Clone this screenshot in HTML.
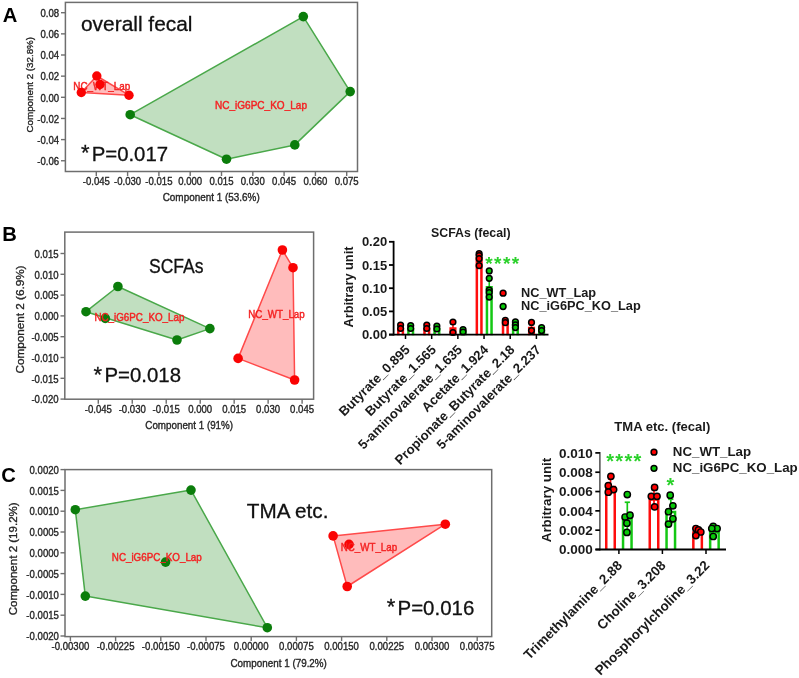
<!DOCTYPE html>
<html><head><meta charset="utf-8"><title>Figure</title>
<style>
html,body{margin:0;padding:0;background:#fff;}
body{width:799px;height:678px;overflow:hidden;}
svg{display:block;font-family:"Liberation Sans", sans-serif;will-change:transform;}
</style></head>
<body>
<svg width="799" height="678" viewBox="0 0 799 678">
<text x="2.70" y="22.40" font-size="20.2" font-weight="bold">A</text>
<polygon points="130.20,114.70 303.30,16.60 350.20,91.60 294.80,144.90 226.50,159.20" fill="#c1dfc0" fill-opacity="1" stroke="#4aa84a" stroke-width="1.5" stroke-linejoin="round"/>
<polygon points="81.30,92.50 96.80,76.00 129.00,95.20" fill="#ffbcbc" fill-opacity="1" stroke="#ff4a4a" stroke-width="1.5" stroke-linejoin="round"/>
<text x="73.30" y="90.30" font-size="9.3" stroke="#f42424" stroke-width="0.4" fill="#f42424" textLength="57.00" lengthAdjust="spacingAndGlyphs" transform="translate(0 90.30) scale(1 1.15) translate(0 -90.30)">NC_WT_Lap</text>
<circle cx="81.30" cy="92.50" r="4.7" fill="#fa0303" stroke="none" stroke-width="1"/>
<circle cx="96.80" cy="76.00" r="4.7" fill="#fa0303" stroke="none" stroke-width="1"/>
<circle cx="129.00" cy="95.20" r="4.7" fill="#fa0303" stroke="none" stroke-width="1"/>
<circle cx="100.00" cy="84.50" r="4.7" fill="#fa0303" stroke="none" stroke-width="1"/>
<circle cx="130.20" cy="114.70" r="4.8" fill="#0b7d0b" stroke="none" stroke-width="1"/>
<circle cx="303.30" cy="16.60" r="4.8" fill="#0b7d0b" stroke="none" stroke-width="1"/>
<circle cx="350.20" cy="91.60" r="4.8" fill="#0b7d0b" stroke="none" stroke-width="1"/>
<circle cx="294.80" cy="144.90" r="4.8" fill="#0b7d0b" stroke="none" stroke-width="1"/>
<circle cx="226.50" cy="159.20" r="4.8" fill="#0b7d0b" stroke="none" stroke-width="1"/>
<text x="215.00" y="108.60" font-size="9.3" stroke="#f42424" stroke-width="0.4" fill="#f42424" textLength="92.00" lengthAdjust="spacingAndGlyphs" transform="translate(0 108.60) scale(1 1.15) translate(0 -108.60)">NC_iG6PC_KO_Lap</text>
<rect x="65.40" y="2.40" width="292.10" height="169.10" fill="none" stroke="#6e6e6e" stroke-width="1.5"/>
<line x1="61.00" y1="12.70" x2="65.40" y2="12.70" stroke="#6e6e6e" stroke-width="1.4"/>
<text x="59.20" y="17.00" font-size="9.6" stroke="#262626" stroke-width="0.33" text-anchor="end" fill="#262626" transform="translate(0 17.00) scale(1 1.12) translate(0 -17.00)">0.08</text>
<line x1="61.00" y1="33.85" x2="65.40" y2="33.85" stroke="#6e6e6e" stroke-width="1.4"/>
<text x="59.20" y="38.15" font-size="9.6" stroke="#262626" stroke-width="0.33" text-anchor="end" fill="#262626" transform="translate(0 38.15) scale(1 1.12) translate(0 -38.15)">0.06</text>
<line x1="61.00" y1="55.00" x2="65.40" y2="55.00" stroke="#6e6e6e" stroke-width="1.4"/>
<text x="59.20" y="59.30" font-size="9.6" stroke="#262626" stroke-width="0.33" text-anchor="end" fill="#262626" transform="translate(0 59.30) scale(1 1.12) translate(0 -59.30)">0.04</text>
<line x1="61.00" y1="76.15" x2="65.40" y2="76.15" stroke="#6e6e6e" stroke-width="1.4"/>
<text x="59.20" y="80.45" font-size="9.6" stroke="#262626" stroke-width="0.33" text-anchor="end" fill="#262626" transform="translate(0 80.45) scale(1 1.12) translate(0 -80.45)">0.02</text>
<line x1="61.00" y1="97.30" x2="65.40" y2="97.30" stroke="#6e6e6e" stroke-width="1.4"/>
<text x="59.20" y="101.60" font-size="9.6" stroke="#262626" stroke-width="0.33" text-anchor="end" fill="#262626" transform="translate(0 101.60) scale(1 1.12) translate(0 -101.60)">0.00</text>
<line x1="61.00" y1="118.45" x2="65.40" y2="118.45" stroke="#6e6e6e" stroke-width="1.4"/>
<text x="59.20" y="122.75" font-size="9.6" stroke="#262626" stroke-width="0.33" text-anchor="end" fill="#262626" transform="translate(0 122.75) scale(1 1.12) translate(0 -122.75)">-0.02</text>
<line x1="61.00" y1="139.60" x2="65.40" y2="139.60" stroke="#6e6e6e" stroke-width="1.4"/>
<text x="59.20" y="143.90" font-size="9.6" stroke="#262626" stroke-width="0.33" text-anchor="end" fill="#262626" transform="translate(0 143.90) scale(1 1.12) translate(0 -143.90)">-0.04</text>
<line x1="61.00" y1="160.75" x2="65.40" y2="160.75" stroke="#6e6e6e" stroke-width="1.4"/>
<text x="59.20" y="165.05" font-size="9.6" stroke="#262626" stroke-width="0.33" text-anchor="end" fill="#262626" transform="translate(0 165.05) scale(1 1.12) translate(0 -165.05)">-0.06</text>
<line x1="96.30" y1="171.50" x2="96.30" y2="176.00" stroke="#6e6e6e" stroke-width="1.4"/>
<text x="96.30" y="185.00" font-size="9.6" stroke="#262626" stroke-width="0.33" text-anchor="middle" fill="#262626" transform="translate(0 185.00) scale(1 1.12) translate(0 -185.00)">-0.045</text>
<line x1="127.60" y1="171.50" x2="127.60" y2="176.00" stroke="#6e6e6e" stroke-width="1.4"/>
<text x="127.60" y="185.00" font-size="9.6" stroke="#262626" stroke-width="0.33" text-anchor="middle" fill="#262626" transform="translate(0 185.00) scale(1 1.12) translate(0 -185.00)">-0.030</text>
<line x1="158.90" y1="171.50" x2="158.90" y2="176.00" stroke="#6e6e6e" stroke-width="1.4"/>
<text x="158.90" y="185.00" font-size="9.6" stroke="#262626" stroke-width="0.33" text-anchor="middle" fill="#262626" transform="translate(0 185.00) scale(1 1.12) translate(0 -185.00)">-0.015</text>
<line x1="190.20" y1="171.50" x2="190.20" y2="176.00" stroke="#6e6e6e" stroke-width="1.4"/>
<text x="190.20" y="185.00" font-size="9.6" stroke="#262626" stroke-width="0.33" text-anchor="middle" fill="#262626" transform="translate(0 185.00) scale(1 1.12) translate(0 -185.00)">0.000</text>
<line x1="221.50" y1="171.50" x2="221.50" y2="176.00" stroke="#6e6e6e" stroke-width="1.4"/>
<text x="221.50" y="185.00" font-size="9.6" stroke="#262626" stroke-width="0.33" text-anchor="middle" fill="#262626" transform="translate(0 185.00) scale(1 1.12) translate(0 -185.00)">0.015</text>
<line x1="252.80" y1="171.50" x2="252.80" y2="176.00" stroke="#6e6e6e" stroke-width="1.4"/>
<text x="252.80" y="185.00" font-size="9.6" stroke="#262626" stroke-width="0.33" text-anchor="middle" fill="#262626" transform="translate(0 185.00) scale(1 1.12) translate(0 -185.00)">0.030</text>
<line x1="284.10" y1="171.50" x2="284.10" y2="176.00" stroke="#6e6e6e" stroke-width="1.4"/>
<text x="284.10" y="185.00" font-size="9.6" stroke="#262626" stroke-width="0.33" text-anchor="middle" fill="#262626" transform="translate(0 185.00) scale(1 1.12) translate(0 -185.00)">0.045</text>
<line x1="315.40" y1="171.50" x2="315.40" y2="176.00" stroke="#6e6e6e" stroke-width="1.4"/>
<text x="315.40" y="185.00" font-size="9.6" stroke="#262626" stroke-width="0.33" text-anchor="middle" fill="#262626" transform="translate(0 185.00) scale(1 1.12) translate(0 -185.00)">0.060</text>
<line x1="346.70" y1="171.50" x2="346.70" y2="176.00" stroke="#6e6e6e" stroke-width="1.4"/>
<text x="346.70" y="185.00" font-size="9.6" stroke="#262626" stroke-width="0.33" text-anchor="middle" fill="#262626" transform="translate(0 185.00) scale(1 1.12) translate(0 -185.00)">0.075</text>
<text x="211.20" y="200.80" font-size="9.6" stroke="#262626" stroke-width="0.33" text-anchor="middle" fill="#262626" textLength="97.00" lengthAdjust="spacingAndGlyphs" transform="translate(0 200.80) scale(1 1.12) translate(0 -200.80)">Component 1 (53.6%)</text>
<text x="33.20" y="84.70" font-size="9.6" stroke="#262626" stroke-width="0.33" text-anchor="middle" fill="#262626" textLength="95.50" lengthAdjust="spacingAndGlyphs" transform="rotate(-90 33.20 84.70)">Component 2 (32.8%)</text>
<text x="81.00" y="31.20" font-size="20.5" stroke="#111" stroke-width="0.3" fill="#111" textLength="111.50" lengthAdjust="spacingAndGlyphs">overall fecal</text>
<text x="81.00" y="159.50" font-size="22" stroke="#111" stroke-width="0.3" fill="#111">*</text>
<text x="91.70" y="160.60" font-size="20.0" stroke="#111" stroke-width="0.3" fill="#111" textLength="76.40" lengthAdjust="spacingAndGlyphs">P=0.017</text>
<text x="2.30" y="240.50" font-size="20.2" font-weight="bold">B</text>
<polygon points="86.00,311.70 117.90,286.50 209.90,328.60 177.00,340.00" fill="#c1dfc0" fill-opacity="1" stroke="#4aa84a" stroke-width="1.5" stroke-linejoin="round"/>
<polygon points="282.40,250.00 293.00,267.70 294.60,380.00 238.10,358.40" fill="#ffbcbc" fill-opacity="1" stroke="#ff4a4a" stroke-width="1.5" stroke-linejoin="round"/>
<circle cx="86.00" cy="311.70" r="4.8" fill="#0b7d0b" stroke="none" stroke-width="1"/>
<circle cx="117.90" cy="286.50" r="4.8" fill="#0b7d0b" stroke="none" stroke-width="1"/>
<circle cx="209.90" cy="328.60" r="4.8" fill="#0b7d0b" stroke="none" stroke-width="1"/>
<circle cx="177.00" cy="340.00" r="4.8" fill="#0b7d0b" stroke="none" stroke-width="1"/>
<circle cx="105.30" cy="318.40" r="4.8" fill="#0b7d0b" stroke="none" stroke-width="1"/>
<circle cx="282.40" cy="250.00" r="4.8" fill="#fa0303" stroke="none" stroke-width="1"/>
<circle cx="293.00" cy="267.70" r="4.8" fill="#fa0303" stroke="none" stroke-width="1"/>
<circle cx="294.60" cy="380.00" r="4.8" fill="#fa0303" stroke="none" stroke-width="1"/>
<circle cx="238.10" cy="358.40" r="4.8" fill="#fa0303" stroke="none" stroke-width="1"/>
<text x="94.40" y="320.70" font-size="9.3" stroke="#f42424" stroke-width="0.4" fill="#f42424" textLength="90.00" lengthAdjust="spacingAndGlyphs" transform="translate(0 320.70) scale(1 1.15) translate(0 -320.70)">NC_iG6PC_KO_Lap</text>
<text x="248.30" y="318.20" font-size="9.3" stroke="#f42424" stroke-width="0.4" fill="#f42424" textLength="56.40" lengthAdjust="spacingAndGlyphs" transform="translate(0 318.20) scale(1 1.15) translate(0 -318.20)">NC_WT_Lap</text>
<rect x="64.80" y="232.10" width="248.80" height="167.10" fill="none" stroke="#6e6e6e" stroke-width="1.5"/>
<line x1="60.50" y1="253.50" x2="64.80" y2="253.50" stroke="#6e6e6e" stroke-width="1.4"/>
<text x="58.60" y="257.80" font-size="9.6" stroke="#262626" stroke-width="0.33" text-anchor="end" fill="#262626" transform="translate(0 257.80) scale(1 1.12) translate(0 -257.80)">0.015</text>
<line x1="60.50" y1="274.30" x2="64.80" y2="274.30" stroke="#6e6e6e" stroke-width="1.4"/>
<text x="58.60" y="278.60" font-size="9.6" stroke="#262626" stroke-width="0.33" text-anchor="end" fill="#262626" transform="translate(0 278.60) scale(1 1.12) translate(0 -278.60)">0.010</text>
<line x1="60.50" y1="295.10" x2="64.80" y2="295.10" stroke="#6e6e6e" stroke-width="1.4"/>
<text x="58.60" y="299.40" font-size="9.6" stroke="#262626" stroke-width="0.33" text-anchor="end" fill="#262626" transform="translate(0 299.40) scale(1 1.12) translate(0 -299.40)">0.005</text>
<line x1="60.50" y1="315.90" x2="64.80" y2="315.90" stroke="#6e6e6e" stroke-width="1.4"/>
<text x="58.60" y="320.20" font-size="9.6" stroke="#262626" stroke-width="0.33" text-anchor="end" fill="#262626" transform="translate(0 320.20) scale(1 1.12) translate(0 -320.20)">0.000</text>
<line x1="60.50" y1="336.70" x2="64.80" y2="336.70" stroke="#6e6e6e" stroke-width="1.4"/>
<text x="58.60" y="341.00" font-size="9.6" stroke="#262626" stroke-width="0.33" text-anchor="end" fill="#262626" transform="translate(0 341.00) scale(1 1.12) translate(0 -341.00)">-0.005</text>
<line x1="60.50" y1="357.50" x2="64.80" y2="357.50" stroke="#6e6e6e" stroke-width="1.4"/>
<text x="58.60" y="361.80" font-size="9.6" stroke="#262626" stroke-width="0.33" text-anchor="end" fill="#262626" transform="translate(0 361.80) scale(1 1.12) translate(0 -361.80)">-0.010</text>
<line x1="60.50" y1="378.30" x2="64.80" y2="378.30" stroke="#6e6e6e" stroke-width="1.4"/>
<text x="58.60" y="382.60" font-size="9.6" stroke="#262626" stroke-width="0.33" text-anchor="end" fill="#262626" transform="translate(0 382.60) scale(1 1.12) translate(0 -382.60)">-0.015</text>
<line x1="60.50" y1="399.10" x2="64.80" y2="399.10" stroke="#6e6e6e" stroke-width="1.4"/>
<text x="58.60" y="403.40" font-size="9.6" stroke="#262626" stroke-width="0.33" text-anchor="end" fill="#262626" transform="translate(0 403.40) scale(1 1.12) translate(0 -403.40)">-0.020</text>
<line x1="98.29" y1="399.20" x2="98.29" y2="403.70" stroke="#6e6e6e" stroke-width="1.4"/>
<text x="98.29" y="413.00" font-size="9.6" stroke="#262626" stroke-width="0.33" text-anchor="middle" fill="#262626" transform="translate(0 413.00) scale(1 1.12) translate(0 -413.00)">-0.045</text>
<line x1="132.26" y1="399.20" x2="132.26" y2="403.70" stroke="#6e6e6e" stroke-width="1.4"/>
<text x="132.26" y="413.00" font-size="9.6" stroke="#262626" stroke-width="0.33" text-anchor="middle" fill="#262626" transform="translate(0 413.00) scale(1 1.12) translate(0 -413.00)">-0.030</text>
<line x1="166.23" y1="399.20" x2="166.23" y2="403.70" stroke="#6e6e6e" stroke-width="1.4"/>
<text x="166.23" y="413.00" font-size="9.6" stroke="#262626" stroke-width="0.33" text-anchor="middle" fill="#262626" transform="translate(0 413.00) scale(1 1.12) translate(0 -413.00)">-0.015</text>
<line x1="200.20" y1="399.20" x2="200.20" y2="403.70" stroke="#6e6e6e" stroke-width="1.4"/>
<text x="200.20" y="413.00" font-size="9.6" stroke="#262626" stroke-width="0.33" text-anchor="middle" fill="#262626" transform="translate(0 413.00) scale(1 1.12) translate(0 -413.00)">0.000</text>
<line x1="234.17" y1="399.20" x2="234.17" y2="403.70" stroke="#6e6e6e" stroke-width="1.4"/>
<text x="234.17" y="413.00" font-size="9.6" stroke="#262626" stroke-width="0.33" text-anchor="middle" fill="#262626" transform="translate(0 413.00) scale(1 1.12) translate(0 -413.00)">0.015</text>
<line x1="268.14" y1="399.20" x2="268.14" y2="403.70" stroke="#6e6e6e" stroke-width="1.4"/>
<text x="268.14" y="413.00" font-size="9.6" stroke="#262626" stroke-width="0.33" text-anchor="middle" fill="#262626" transform="translate(0 413.00) scale(1 1.12) translate(0 -413.00)">0.030</text>
<line x1="302.11" y1="399.20" x2="302.11" y2="403.70" stroke="#6e6e6e" stroke-width="1.4"/>
<text x="302.11" y="413.00" font-size="9.6" stroke="#262626" stroke-width="0.33" text-anchor="middle" fill="#262626" transform="translate(0 413.00) scale(1 1.12) translate(0 -413.00)">0.045</text>
<text x="189.20" y="429.50" font-size="9.6" stroke="#262626" stroke-width="0.33" text-anchor="middle" fill="#262626" textLength="87.70" lengthAdjust="spacingAndGlyphs" transform="translate(0 429.50) scale(1 1.12) translate(0 -429.50)">Component 1 (91%)</text>
<text x="24.00" y="319.50" font-size="11.0" stroke="#262626" stroke-width="0.33" text-anchor="middle" fill="#262626" textLength="108.00" lengthAdjust="spacingAndGlyphs" transform="rotate(-90 24.00 319.50)">Component  2 (6.9%)</text>
<text x="149.00" y="273.10" font-size="20.0" stroke="#111" stroke-width="0.3" fill="#111" textLength="54.50" lengthAdjust="spacingAndGlyphs">SCFAs</text>
<text x="93.60" y="382.00" font-size="22" stroke="#111" stroke-width="0.3" fill="#111">*</text>
<text x="104.50" y="382.00" font-size="20.0" stroke="#111" stroke-width="0.3" fill="#111" textLength="76.50" lengthAdjust="spacingAndGlyphs">P=0.018</text>
<text x="1.30" y="482.30" font-size="20.2" font-weight="bold">C</text>
<polygon points="75.30,509.70 191.00,490.10 267.30,627.70 85.30,596.10" fill="#c1dfc0" fill-opacity="1" stroke="#4aa84a" stroke-width="1.5" stroke-linejoin="round"/>
<polygon points="333.10,535.90 445.30,524.20 347.20,586.50" fill="#ffbcbc" fill-opacity="1" stroke="#ff4a4a" stroke-width="1.5" stroke-linejoin="round"/>
<circle cx="75.30" cy="509.70" r="4.8" fill="#0b7d0b" stroke="none" stroke-width="1"/>
<circle cx="191.00" cy="490.10" r="4.8" fill="#0b7d0b" stroke="none" stroke-width="1"/>
<circle cx="267.30" cy="627.70" r="4.8" fill="#0b7d0b" stroke="none" stroke-width="1"/>
<circle cx="85.30" cy="596.10" r="4.8" fill="#0b7d0b" stroke="none" stroke-width="1"/>
<circle cx="165.60" cy="562.10" r="4.8" fill="#0b7d0b" stroke="none" stroke-width="1"/>
<circle cx="333.10" cy="535.90" r="4.8" fill="#fa0303" stroke="none" stroke-width="1"/>
<circle cx="445.30" cy="524.20" r="4.8" fill="#fa0303" stroke="none" stroke-width="1"/>
<circle cx="347.20" cy="586.50" r="4.8" fill="#fa0303" stroke="none" stroke-width="1"/>
<circle cx="349.00" cy="544.40" r="4.8" fill="#fa0303" stroke="none" stroke-width="1"/>
<text x="111.80" y="561.20" font-size="9.3" stroke="#f42424" stroke-width="0.4" fill="#f42424" textLength="90.00" lengthAdjust="spacingAndGlyphs" transform="translate(0 561.20) scale(1 1.15) translate(0 -561.20)">NC_iG6PC_KO_Lap</text>
<text x="340.70" y="551.10" font-size="9.3" stroke="#f42424" stroke-width="0.4" fill="#f42424" textLength="56.40" lengthAdjust="spacingAndGlyphs" transform="translate(0 551.10) scale(1 1.15) translate(0 -551.10)">NC_WT_Lap</text>
<rect x="65.00" y="469.60" width="426.70" height="167.00" fill="none" stroke="#6e6e6e" stroke-width="1.5"/>
<line x1="60.50" y1="469.60" x2="65.00" y2="469.60" stroke="#6e6e6e" stroke-width="1.4"/>
<text x="58.90" y="473.90" font-size="9.6" stroke="#262626" stroke-width="0.33" text-anchor="end" fill="#262626" transform="translate(0 473.90) scale(1 1.12) translate(0 -473.90)">0.0020</text>
<line x1="60.50" y1="490.40" x2="65.00" y2="490.40" stroke="#6e6e6e" stroke-width="1.4"/>
<text x="58.90" y="494.70" font-size="9.6" stroke="#262626" stroke-width="0.33" text-anchor="end" fill="#262626" transform="translate(0 494.70) scale(1 1.12) translate(0 -494.70)">0.0015</text>
<line x1="60.50" y1="511.20" x2="65.00" y2="511.20" stroke="#6e6e6e" stroke-width="1.4"/>
<text x="58.90" y="515.50" font-size="9.6" stroke="#262626" stroke-width="0.33" text-anchor="end" fill="#262626" transform="translate(0 515.50) scale(1 1.12) translate(0 -515.50)">0.0010</text>
<line x1="60.50" y1="532.00" x2="65.00" y2="532.00" stroke="#6e6e6e" stroke-width="1.4"/>
<text x="58.90" y="536.30" font-size="9.6" stroke="#262626" stroke-width="0.33" text-anchor="end" fill="#262626" transform="translate(0 536.30) scale(1 1.12) translate(0 -536.30)">0.0005</text>
<line x1="60.50" y1="552.80" x2="65.00" y2="552.80" stroke="#6e6e6e" stroke-width="1.4"/>
<text x="58.90" y="557.10" font-size="9.6" stroke="#262626" stroke-width="0.33" text-anchor="end" fill="#262626" transform="translate(0 557.10) scale(1 1.12) translate(0 -557.10)">0.0000</text>
<line x1="60.50" y1="573.60" x2="65.00" y2="573.60" stroke="#6e6e6e" stroke-width="1.4"/>
<text x="58.90" y="577.90" font-size="9.6" stroke="#262626" stroke-width="0.33" text-anchor="end" fill="#262626" transform="translate(0 577.90) scale(1 1.12) translate(0 -577.90)">-0.0005</text>
<line x1="60.50" y1="594.40" x2="65.00" y2="594.40" stroke="#6e6e6e" stroke-width="1.4"/>
<text x="58.90" y="598.70" font-size="9.6" stroke="#262626" stroke-width="0.33" text-anchor="end" fill="#262626" transform="translate(0 598.70) scale(1 1.12) translate(0 -598.70)">-0.0010</text>
<line x1="60.50" y1="615.20" x2="65.00" y2="615.20" stroke="#6e6e6e" stroke-width="1.4"/>
<text x="58.90" y="619.50" font-size="9.6" stroke="#262626" stroke-width="0.33" text-anchor="end" fill="#262626" transform="translate(0 619.50) scale(1 1.12) translate(0 -619.50)">-0.0015</text>
<line x1="60.50" y1="636.00" x2="65.00" y2="636.00" stroke="#6e6e6e" stroke-width="1.4"/>
<text x="58.90" y="640.30" font-size="9.6" stroke="#262626" stroke-width="0.33" text-anchor="end" fill="#262626" transform="translate(0 640.30) scale(1 1.12) translate(0 -640.30)">-0.0020</text>
<line x1="70.40" y1="636.60" x2="70.40" y2="641.10" stroke="#6e6e6e" stroke-width="1.4"/>
<text x="70.40" y="649.80" font-size="9.6" stroke="#262626" stroke-width="0.33" text-anchor="middle" fill="#262626" transform="translate(0 649.80) scale(1 1.12) translate(0 -649.80)">-0.00300</text>
<line x1="115.60" y1="636.60" x2="115.60" y2="641.10" stroke="#6e6e6e" stroke-width="1.4"/>
<text x="115.60" y="649.80" font-size="9.6" stroke="#262626" stroke-width="0.33" text-anchor="middle" fill="#262626" transform="translate(0 649.80) scale(1 1.12) translate(0 -649.80)">-0.00225</text>
<line x1="160.80" y1="636.60" x2="160.80" y2="641.10" stroke="#6e6e6e" stroke-width="1.4"/>
<text x="160.80" y="649.80" font-size="9.6" stroke="#262626" stroke-width="0.33" text-anchor="middle" fill="#262626" transform="translate(0 649.80) scale(1 1.12) translate(0 -649.80)">-0.00150</text>
<line x1="206.00" y1="636.60" x2="206.00" y2="641.10" stroke="#6e6e6e" stroke-width="1.4"/>
<text x="206.00" y="649.80" font-size="9.6" stroke="#262626" stroke-width="0.33" text-anchor="middle" fill="#262626" transform="translate(0 649.80) scale(1 1.12) translate(0 -649.80)">-0.00075</text>
<line x1="251.20" y1="636.60" x2="251.20" y2="641.10" stroke="#6e6e6e" stroke-width="1.4"/>
<text x="251.20" y="649.80" font-size="9.6" stroke="#262626" stroke-width="0.33" text-anchor="middle" fill="#262626" transform="translate(0 649.80) scale(1 1.12) translate(0 -649.80)">0.00000</text>
<line x1="296.40" y1="636.60" x2="296.40" y2="641.10" stroke="#6e6e6e" stroke-width="1.4"/>
<text x="296.40" y="649.80" font-size="9.6" stroke="#262626" stroke-width="0.33" text-anchor="middle" fill="#262626" transform="translate(0 649.80) scale(1 1.12) translate(0 -649.80)">0.00075</text>
<line x1="341.60" y1="636.60" x2="341.60" y2="641.10" stroke="#6e6e6e" stroke-width="1.4"/>
<text x="341.60" y="649.80" font-size="9.6" stroke="#262626" stroke-width="0.33" text-anchor="middle" fill="#262626" transform="translate(0 649.80) scale(1 1.12) translate(0 -649.80)">0.00150</text>
<line x1="386.80" y1="636.60" x2="386.80" y2="641.10" stroke="#6e6e6e" stroke-width="1.4"/>
<text x="386.80" y="649.80" font-size="9.6" stroke="#262626" stroke-width="0.33" text-anchor="middle" fill="#262626" transform="translate(0 649.80) scale(1 1.12) translate(0 -649.80)">0.00225</text>
<line x1="432.00" y1="636.60" x2="432.00" y2="641.10" stroke="#6e6e6e" stroke-width="1.4"/>
<text x="432.00" y="649.80" font-size="9.6" stroke="#262626" stroke-width="0.33" text-anchor="middle" fill="#262626" transform="translate(0 649.80) scale(1 1.12) translate(0 -649.80)">0.00300</text>
<line x1="477.20" y1="636.60" x2="477.20" y2="641.10" stroke="#6e6e6e" stroke-width="1.4"/>
<text x="477.20" y="649.80" font-size="9.6" stroke="#262626" stroke-width="0.33" text-anchor="middle" fill="#262626" transform="translate(0 649.80) scale(1 1.12) translate(0 -649.80)">0.00375</text>
<text x="278.70" y="666.80" font-size="9.6" stroke="#262626" stroke-width="0.33" text-anchor="middle" fill="#262626" textLength="96.40" lengthAdjust="spacingAndGlyphs" transform="translate(0 666.80) scale(1 1.12) translate(0 -666.80)">Component 1 (79.2%)</text>
<text x="17.30" y="558.80" font-size="11.0" stroke="#262626" stroke-width="0.33" text-anchor="middle" fill="#262626" textLength="113.00" lengthAdjust="spacingAndGlyphs" transform="rotate(-90 17.30 558.80)">Component  2 (19.2%)</text>
<text x="246.80" y="518.40" font-size="20.0" stroke="#111" stroke-width="0.3" fill="#111" textLength="81.60" lengthAdjust="spacingAndGlyphs">TMA etc.</text>
<text x="386.75" y="614.40" font-size="22" stroke="#111" stroke-width="0.3" fill="#111">*</text>
<text x="397.50" y="615.00" font-size="20.0" stroke="#111" stroke-width="0.3" fill="#111" textLength="76.80" lengthAdjust="spacingAndGlyphs">P=0.016</text>
<text x="470.80" y="236.60" font-size="12.2" text-anchor="middle" font-weight="bold" fill="#1a1a1a" textLength="79.60" lengthAdjust="spacingAndGlyphs">SCFAs (fecal)</text>
<text x="353.00" y="287.00" font-size="12.5" text-anchor="middle" font-weight="bold" fill="#1a1a1a" textLength="81.00" lengthAdjust="spacingAndGlyphs" transform="rotate(-90 353.00 287.00)">Arbitrary unit</text>
<path d="M398.30,335.20 V328.89 H402.90 V335.20" fill="#fff" stroke="#ff0d0d" stroke-width="2.5"/>
<path d="M408.40,335.20 V328.89 H413.00 V335.20" fill="#fff" stroke="#14c814" stroke-width="2.5"/>
<path d="M424.48,335.20 V328.89 H429.08 V335.20" fill="#fff" stroke="#ff0d0d" stroke-width="2.5"/>
<path d="M434.58,335.20 V329.35 H439.18 V335.20" fill="#fff" stroke="#14c814" stroke-width="2.5"/>
<path d="M450.66,335.20 V328.43 H455.26 V335.20" fill="#fff" stroke="#ff0d0d" stroke-width="2.5"/>
<path d="M460.76,335.20 V331.67 H465.36 V335.20" fill="#fff" stroke="#14c814" stroke-width="2.5"/>
<path d="M476.84,335.20 V257.90 H481.44 V335.20" fill="#fff" stroke="#ff0d0d" stroke-width="2.5"/>
<path d="M486.94,335.20 V287.13 H491.54 V335.20" fill="#fff" stroke="#14c814" stroke-width="2.5"/>
<path d="M503.02,335.20 V322.86 H507.62 V335.20" fill="#fff" stroke="#ff0d0d" stroke-width="2.5"/>
<path d="M513.12,335.20 V324.71 H517.72 V335.20" fill="#fff" stroke="#14c814" stroke-width="2.5"/>
<path d="M529.20,335.20 V327.96 H533.80 V335.20" fill="#fff" stroke="#ff0d0d" stroke-width="2.5"/>
<path d="M539.30,335.20 V329.82 H543.90 V335.20" fill="#fff" stroke="#14c814" stroke-width="2.5"/>
<line x1="400.60" y1="326.25" x2="400.60" y2="329.03" stroke="#ff0d0d" stroke-width="1.6"/>
<line x1="398.60" y1="326.25" x2="402.60" y2="326.25" stroke="#ff0d0d" stroke-width="1.6"/>
<line x1="398.60" y1="329.03" x2="402.60" y2="329.03" stroke="#ff0d0d" stroke-width="1.6"/>
<line x1="410.70" y1="326.25" x2="410.70" y2="329.03" stroke="#14c814" stroke-width="1.6"/>
<line x1="408.70" y1="326.25" x2="412.70" y2="326.25" stroke="#14c814" stroke-width="1.6"/>
<line x1="408.70" y1="329.03" x2="412.70" y2="329.03" stroke="#14c814" stroke-width="1.6"/>
<line x1="426.78" y1="326.25" x2="426.78" y2="329.03" stroke="#ff0d0d" stroke-width="1.6"/>
<line x1="424.78" y1="326.25" x2="428.78" y2="326.25" stroke="#ff0d0d" stroke-width="1.6"/>
<line x1="424.78" y1="329.03" x2="428.78" y2="329.03" stroke="#ff0d0d" stroke-width="1.6"/>
<line x1="436.88" y1="326.71" x2="436.88" y2="329.50" stroke="#14c814" stroke-width="1.6"/>
<line x1="434.88" y1="326.71" x2="438.88" y2="326.71" stroke="#14c814" stroke-width="1.6"/>
<line x1="434.88" y1="329.50" x2="438.88" y2="329.50" stroke="#14c814" stroke-width="1.6"/>
<line x1="452.96" y1="323.46" x2="452.96" y2="330.89" stroke="#ff0d0d" stroke-width="1.6"/>
<line x1="450.96" y1="323.46" x2="454.96" y2="323.46" stroke="#ff0d0d" stroke-width="1.6"/>
<line x1="450.96" y1="330.89" x2="454.96" y2="330.89" stroke="#ff0d0d" stroke-width="1.6"/>
<line x1="463.06" y1="329.03" x2="463.06" y2="331.82" stroke="#14c814" stroke-width="1.6"/>
<line x1="461.06" y1="329.03" x2="465.06" y2="329.03" stroke="#14c814" stroke-width="1.6"/>
<line x1="461.06" y1="331.82" x2="465.06" y2="331.82" stroke="#14c814" stroke-width="1.6"/>
<line x1="479.14" y1="252.01" x2="479.14" y2="261.29" stroke="#ff0d0d" stroke-width="1.6"/>
<line x1="477.14" y1="252.01" x2="481.14" y2="252.01" stroke="#ff0d0d" stroke-width="1.6"/>
<line x1="477.14" y1="261.29" x2="481.14" y2="261.29" stroke="#ff0d0d" stroke-width="1.6"/>
<line x1="489.24" y1="277.99" x2="489.24" y2="293.77" stroke="#14c814" stroke-width="1.6"/>
<line x1="487.24" y1="277.99" x2="491.24" y2="277.99" stroke="#14c814" stroke-width="1.6"/>
<line x1="487.24" y1="293.77" x2="491.24" y2="293.77" stroke="#14c814" stroke-width="1.6"/>
<line x1="505.32" y1="320.22" x2="505.32" y2="323.00" stroke="#ff0d0d" stroke-width="1.6"/>
<line x1="503.32" y1="320.22" x2="507.32" y2="320.22" stroke="#ff0d0d" stroke-width="1.6"/>
<line x1="503.32" y1="323.00" x2="507.32" y2="323.00" stroke="#ff0d0d" stroke-width="1.6"/>
<line x1="515.42" y1="322.07" x2="515.42" y2="324.86" stroke="#14c814" stroke-width="1.6"/>
<line x1="513.42" y1="322.07" x2="517.42" y2="322.07" stroke="#14c814" stroke-width="1.6"/>
<line x1="513.42" y1="324.86" x2="517.42" y2="324.86" stroke="#14c814" stroke-width="1.6"/>
<line x1="531.50" y1="323.93" x2="531.50" y2="329.50" stroke="#ff0d0d" stroke-width="1.6"/>
<line x1="529.50" y1="323.93" x2="533.50" y2="323.93" stroke="#ff0d0d" stroke-width="1.6"/>
<line x1="529.50" y1="329.50" x2="533.50" y2="329.50" stroke="#ff0d0d" stroke-width="1.6"/>
<line x1="541.60" y1="327.18" x2="541.60" y2="329.96" stroke="#14c814" stroke-width="1.6"/>
<line x1="539.60" y1="327.18" x2="543.60" y2="327.18" stroke="#14c814" stroke-width="1.6"/>
<line x1="539.60" y1="329.96" x2="543.60" y2="329.96" stroke="#14c814" stroke-width="1.6"/>
<circle cx="400.60" cy="325.00" r="2.85" fill="#ff0000" stroke="#000" stroke-width="1.5"/>
<circle cx="400.60" cy="328.50" r="2.85" fill="#ff0000" stroke="#000" stroke-width="1.5"/>
<circle cx="410.70" cy="325.50" r="2.85" fill="#08c808" stroke="#000" stroke-width="1.5"/>
<circle cx="410.70" cy="328.50" r="2.85" fill="#08c808" stroke="#000" stroke-width="1.5"/>
<circle cx="426.78" cy="325.00" r="2.85" fill="#ff0000" stroke="#000" stroke-width="1.5"/>
<circle cx="426.78" cy="328.50" r="2.85" fill="#ff0000" stroke="#000" stroke-width="1.5"/>
<circle cx="436.88" cy="326.00" r="2.85" fill="#08c808" stroke="#000" stroke-width="1.5"/>
<circle cx="436.88" cy="329.00" r="2.85" fill="#08c808" stroke="#000" stroke-width="1.5"/>
<circle cx="452.96" cy="322.00" r="2.85" fill="#ff0000" stroke="#000" stroke-width="1.5"/>
<circle cx="452.96" cy="332.50" r="2.85" fill="#ff0000" stroke="#000" stroke-width="1.5"/>
<circle cx="463.06" cy="329.50" r="2.85" fill="#08c808" stroke="#000" stroke-width="1.5"/>
<circle cx="463.06" cy="332.00" r="2.85" fill="#08c808" stroke="#000" stroke-width="1.5"/>
<circle cx="479.14" cy="253.70" r="2.85" fill="#ff0000" stroke="#000" stroke-width="1.5"/>
<circle cx="479.14" cy="255.50" r="2.85" fill="#ff0000" stroke="#000" stroke-width="1.5"/>
<circle cx="479.14" cy="258.70" r="2.85" fill="#ff0000" stroke="#000" stroke-width="1.5"/>
<circle cx="479.14" cy="265.70" r="2.85" fill="#ff0000" stroke="#000" stroke-width="1.5"/>
<circle cx="489.24" cy="270.90" r="2.85" fill="#08c808" stroke="#000" stroke-width="1.5"/>
<circle cx="489.24" cy="278.30" r="2.85" fill="#08c808" stroke="#000" stroke-width="1.5"/>
<circle cx="489.24" cy="290.10" r="2.85" fill="#08c808" stroke="#000" stroke-width="1.5"/>
<circle cx="489.24" cy="292.60" r="2.85" fill="#08c808" stroke="#000" stroke-width="1.5"/>
<circle cx="489.24" cy="297.10" r="2.85" fill="#08c808" stroke="#000" stroke-width="1.5"/>
<circle cx="505.32" cy="320.40" r="2.85" fill="#ff0000" stroke="#000" stroke-width="1.5"/>
<circle cx="505.32" cy="322.70" r="2.85" fill="#ff0000" stroke="#000" stroke-width="1.5"/>
<circle cx="515.42" cy="321.90" r="2.85" fill="#08c808" stroke="#000" stroke-width="1.5"/>
<circle cx="515.42" cy="324.90" r="2.85" fill="#08c808" stroke="#000" stroke-width="1.5"/>
<circle cx="515.42" cy="327.60" r="2.85" fill="#08c808" stroke="#000" stroke-width="1.5"/>
<circle cx="531.50" cy="322.40" r="2.85" fill="#ff0000" stroke="#000" stroke-width="1.5"/>
<circle cx="531.50" cy="330.60" r="2.85" fill="#ff0000" stroke="#000" stroke-width="1.5"/>
<circle cx="541.60" cy="327.60" r="2.85" fill="#08c808" stroke="#000" stroke-width="1.5"/>
<circle cx="541.60" cy="330.60" r="2.85" fill="#08c808" stroke="#000" stroke-width="1.5"/>
<line x1="393.60" y1="240.90" x2="393.60" y2="335.50" stroke="#000" stroke-width="1.8"/>
<line x1="389.00" y1="334.60" x2="548.50" y2="334.60" stroke="#000" stroke-width="1.8"/>
<line x1="389.00" y1="334.60" x2="393.60" y2="334.60" stroke="#000" stroke-width="1.8"/>
<text x="387.20" y="339.20" font-size="13" text-anchor="end" font-weight="bold" fill="#1a1a1a">0.00</text>
<line x1="389.00" y1="311.40" x2="393.60" y2="311.40" stroke="#000" stroke-width="1.8"/>
<text x="387.20" y="316.00" font-size="13" text-anchor="end" font-weight="bold" fill="#1a1a1a">0.05</text>
<line x1="389.00" y1="288.20" x2="393.60" y2="288.20" stroke="#000" stroke-width="1.8"/>
<text x="387.20" y="292.80" font-size="13" text-anchor="end" font-weight="bold" fill="#1a1a1a">0.10</text>
<line x1="389.00" y1="265.00" x2="393.60" y2="265.00" stroke="#000" stroke-width="1.8"/>
<text x="387.20" y="269.60" font-size="13" text-anchor="end" font-weight="bold" fill="#1a1a1a">0.15</text>
<line x1="389.00" y1="241.80" x2="393.60" y2="241.80" stroke="#000" stroke-width="1.8"/>
<text x="387.20" y="246.40" font-size="13" text-anchor="end" font-weight="bold" fill="#1a1a1a">0.20</text>
<line x1="405.50" y1="334.60" x2="405.50" y2="339.00" stroke="#000" stroke-width="1.5"/>
<line x1="431.68" y1="334.60" x2="431.68" y2="339.00" stroke="#000" stroke-width="1.5"/>
<line x1="457.86" y1="334.60" x2="457.86" y2="339.00" stroke="#000" stroke-width="1.5"/>
<line x1="484.04" y1="334.60" x2="484.04" y2="339.00" stroke="#000" stroke-width="1.5"/>
<line x1="510.22" y1="334.60" x2="510.22" y2="339.00" stroke="#000" stroke-width="1.5"/>
<line x1="536.40" y1="334.60" x2="536.40" y2="339.00" stroke="#000" stroke-width="1.5"/>
<text x="410.70" y="350.50" font-size="13.2" text-anchor="end" font-weight="bold" fill="#1a1a1a" transform="rotate(-45 410.70 350.50)">Butyrate_0.895</text>
<text x="436.88" y="350.50" font-size="13.2" text-anchor="end" font-weight="bold" fill="#1a1a1a" transform="rotate(-45 436.88 350.50)">Butyrate_1.565</text>
<text x="463.06" y="350.50" font-size="13.2" text-anchor="end" font-weight="bold" fill="#1a1a1a" transform="rotate(-45 463.06 350.50)">5-aminovalerate_1.635</text>
<text x="489.24" y="350.50" font-size="13.2" text-anchor="end" font-weight="bold" fill="#1a1a1a" transform="rotate(-45 489.24 350.50)">Acetate_1.924</text>
<text x="515.42" y="350.50" font-size="13.2" text-anchor="end" font-weight="bold" fill="#1a1a1a" transform="rotate(-45 515.42 350.50)">Propionate_Butyrate_2.18</text>
<text x="541.60" y="350.50" font-size="13.2" text-anchor="end" font-weight="bold" fill="#1a1a1a" transform="rotate(-45 541.60 350.50)">5-aminovalerate_2.237</text>
<text x="485.30" y="269.70" font-size="19" font-weight="bold" fill="#2ad12a" letter-spacing="1.4">****</text>
<circle cx="503.10" cy="293.20" r="2.9" fill="#ff0000" stroke="#000" stroke-width="1.5"/>
<circle cx="503.10" cy="306.50" r="2.9" fill="#08c808" stroke="#000" stroke-width="1.5"/>
<text x="521.00" y="296.60" font-size="12.75" font-weight="bold" fill="#1a1a1a">NC_WT_Lap</text>
<text x="521.00" y="310.20" font-size="12.75" font-weight="bold" fill="#1a1a1a">NC_iG6PC_KO_Lap</text>
<text x="662.30" y="430.80" font-size="13" text-anchor="middle" font-weight="bold" fill="#1a1a1a" textLength="96.00" lengthAdjust="spacingAndGlyphs">TMA etc. (fecal)</text>
<text x="551.00" y="500.00" font-size="13" text-anchor="middle" font-weight="bold" fill="#1a1a1a" textLength="84.50" lengthAdjust="spacingAndGlyphs" transform="rotate(-90 551.00 500.00)">Arbitrary unit</text>
<path d="M606.25,550.10 V486.99 H614.75 V550.10" fill="#fff" stroke="#ff0d0d" stroke-width="2.5"/>
<path d="M623.05,550.10 V518.87 H631.55 V550.10" fill="#fff" stroke="#14c814" stroke-width="2.5"/>
<path d="M649.75,550.10 V499.55 H658.25 V550.10" fill="#fff" stroke="#ff0d0d" stroke-width="2.5"/>
<path d="M666.55,550.10 V512.11 H675.05 V550.10" fill="#fff" stroke="#14c814" stroke-width="2.5"/>
<path d="M693.35,550.10 V532.40 H701.85 V550.10" fill="#fff" stroke="#ff0d0d" stroke-width="2.5"/>
<path d="M710.15,550.10 V532.40 H718.65 V550.10" fill="#fff" stroke="#14c814" stroke-width="2.5"/>
<line x1="610.50" y1="478.98" x2="610.50" y2="492.51" stroke="#ff0d0d" stroke-width="1.7"/>
<line x1="607.90" y1="478.98" x2="613.10" y2="478.98" stroke="#ff0d0d" stroke-width="1.7"/>
<line x1="607.90" y1="492.51" x2="613.10" y2="492.51" stroke="#ff0d0d" stroke-width="1.7"/>
<line x1="627.30" y1="502.26" x2="627.30" y2="532.98" stroke="#14c814" stroke-width="1.7"/>
<line x1="624.70" y1="502.26" x2="629.90" y2="502.26" stroke="#14c814" stroke-width="1.7"/>
<line x1="624.70" y1="532.98" x2="629.90" y2="532.98" stroke="#14c814" stroke-width="1.7"/>
<line x1="654.00" y1="489.61" x2="654.00" y2="507.00" stroke="#ff0d0d" stroke-width="1.7"/>
<line x1="651.40" y1="489.61" x2="656.60" y2="489.61" stroke="#ff0d0d" stroke-width="1.7"/>
<line x1="651.40" y1="507.00" x2="656.60" y2="507.00" stroke="#ff0d0d" stroke-width="1.7"/>
<line x1="670.80" y1="499.27" x2="670.80" y2="522.45" stroke="#14c814" stroke-width="1.7"/>
<line x1="668.20" y1="499.27" x2="673.40" y2="499.27" stroke="#14c814" stroke-width="1.7"/>
<line x1="668.20" y1="522.45" x2="673.40" y2="522.45" stroke="#14c814" stroke-width="1.7"/>
<line x1="697.60" y1="528.25" x2="697.60" y2="534.04" stroke="#ff0d0d" stroke-width="1.7"/>
<line x1="695.00" y1="528.25" x2="700.20" y2="528.25" stroke="#ff0d0d" stroke-width="1.7"/>
<line x1="695.00" y1="534.04" x2="700.20" y2="534.04" stroke="#ff0d0d" stroke-width="1.7"/>
<line x1="714.40" y1="527.28" x2="714.40" y2="535.01" stroke="#14c814" stroke-width="1.7"/>
<line x1="711.80" y1="527.28" x2="717.00" y2="527.28" stroke="#14c814" stroke-width="1.7"/>
<line x1="711.80" y1="535.01" x2="717.00" y2="535.01" stroke="#14c814" stroke-width="1.7"/>
<circle cx="610.90" cy="476.30" r="3.15" fill="#ff0000" stroke="#000" stroke-width="1.45"/>
<circle cx="608.30" cy="485.70" r="3.15" fill="#ff0000" stroke="#000" stroke-width="1.45"/>
<circle cx="613.60" cy="489.60" r="3.15" fill="#ff0000" stroke="#000" stroke-width="1.45"/>
<circle cx="608.30" cy="492.20" r="3.15" fill="#ff0000" stroke="#000" stroke-width="1.45"/>
<circle cx="627.30" cy="494.50" r="3.15" fill="#08c808" stroke="#000" stroke-width="1.45"/>
<circle cx="625.10" cy="517.00" r="3.15" fill="#08c808" stroke="#000" stroke-width="1.45"/>
<circle cx="630.00" cy="515.20" r="3.15" fill="#08c808" stroke="#000" stroke-width="1.45"/>
<circle cx="626.90" cy="523.20" r="3.15" fill="#08c808" stroke="#000" stroke-width="1.45"/>
<circle cx="626.90" cy="532.40" r="3.15" fill="#08c808" stroke="#000" stroke-width="1.45"/>
<circle cx="654.60" cy="487.40" r="3.15" fill="#ff0000" stroke="#000" stroke-width="1.45"/>
<circle cx="651.30" cy="496.30" r="3.15" fill="#ff0000" stroke="#000" stroke-width="1.45"/>
<circle cx="657.00" cy="496.30" r="3.15" fill="#ff0000" stroke="#000" stroke-width="1.45"/>
<circle cx="654.60" cy="506.90" r="3.15" fill="#ff0000" stroke="#000" stroke-width="1.45"/>
<circle cx="670.20" cy="495.20" r="3.15" fill="#08c808" stroke="#000" stroke-width="1.45"/>
<circle cx="672.90" cy="505.80" r="3.15" fill="#08c808" stroke="#000" stroke-width="1.45"/>
<circle cx="668.50" cy="511.70" r="3.15" fill="#08c808" stroke="#000" stroke-width="1.45"/>
<circle cx="672.90" cy="518.80" r="3.15" fill="#08c808" stroke="#000" stroke-width="1.45"/>
<circle cx="668.50" cy="524.10" r="3.15" fill="#08c808" stroke="#000" stroke-width="1.45"/>
<circle cx="695.90" cy="528.50" r="3.15" fill="#ff0000" stroke="#000" stroke-width="1.45"/>
<circle cx="698.50" cy="529.90" r="3.15" fill="#ff0000" stroke="#000" stroke-width="1.45"/>
<circle cx="700.80" cy="532.00" r="3.15" fill="#ff0000" stroke="#000" stroke-width="1.45"/>
<circle cx="695.90" cy="535.60" r="3.15" fill="#ff0000" stroke="#000" stroke-width="1.45"/>
<circle cx="713.20" cy="526.40" r="3.15" fill="#08c808" stroke="#000" stroke-width="1.45"/>
<circle cx="717.10" cy="528.50" r="3.15" fill="#08c808" stroke="#000" stroke-width="1.45"/>
<circle cx="711.80" cy="528.50" r="3.15" fill="#08c808" stroke="#000" stroke-width="1.45"/>
<circle cx="713.20" cy="536.50" r="3.15" fill="#08c808" stroke="#000" stroke-width="1.45"/>
<line x1="599.90" y1="452.00" x2="599.90" y2="550.50" stroke="#333" stroke-width="1.3"/>
<line x1="595.50" y1="549.50" x2="726.00" y2="549.50" stroke="#000" stroke-width="1.8"/>
<line x1="595.30" y1="549.50" x2="599.90" y2="549.50" stroke="#000" stroke-width="1.7"/>
<text x="592.80" y="554.20" font-size="13.5" text-anchor="end" font-weight="bold" fill="#1a1a1a">0.000</text>
<line x1="595.30" y1="530.18" x2="599.90" y2="530.18" stroke="#000" stroke-width="1.7"/>
<text x="592.80" y="534.88" font-size="13.5" text-anchor="end" font-weight="bold" fill="#1a1a1a">0.002</text>
<line x1="595.30" y1="510.86" x2="599.90" y2="510.86" stroke="#000" stroke-width="1.7"/>
<text x="592.80" y="515.56" font-size="13.5" text-anchor="end" font-weight="bold" fill="#1a1a1a">0.004</text>
<line x1="595.30" y1="491.54" x2="599.90" y2="491.54" stroke="#000" stroke-width="1.7"/>
<text x="592.80" y="496.24" font-size="13.5" text-anchor="end" font-weight="bold" fill="#1a1a1a">0.006</text>
<line x1="595.30" y1="472.22" x2="599.90" y2="472.22" stroke="#000" stroke-width="1.7"/>
<text x="592.80" y="476.92" font-size="13.5" text-anchor="end" font-weight="bold" fill="#1a1a1a">0.008</text>
<line x1="595.30" y1="452.90" x2="599.90" y2="452.90" stroke="#000" stroke-width="1.7"/>
<text x="592.80" y="457.60" font-size="13.5" text-anchor="end" font-weight="bold" fill="#1a1a1a">0.010</text>
<line x1="618.90" y1="549.50" x2="618.90" y2="554.00" stroke="#000" stroke-width="1.5"/>
<line x1="662.40" y1="549.50" x2="662.40" y2="554.00" stroke="#000" stroke-width="1.5"/>
<line x1="706.00" y1="549.50" x2="706.00" y2="554.00" stroke="#000" stroke-width="1.5"/>
<text x="623.20" y="566.30" font-size="13.5" text-anchor="end" font-weight="bold" fill="#1a1a1a" transform="rotate(-45 623.20 566.30)">Trimethylamine_2.88</text>
<text x="666.70" y="566.30" font-size="13.5" text-anchor="end" font-weight="bold" fill="#1a1a1a" transform="rotate(-45 666.70 566.30)">Choline_3.208</text>
<text x="710.30" y="566.30" font-size="13.5" text-anchor="end" font-weight="bold" fill="#1a1a1a" transform="rotate(-45 710.30 566.30)">Phosphorylcholine_3.22</text>
<text x="606.25" y="467.70" font-size="20" font-weight="bold" fill="#2ad12a" letter-spacing="1.3">****</text>
<text x="666.60" y="492.20" font-size="20" font-weight="bold" fill="#2ad12a">*</text>
<circle cx="654.00" cy="452.20" r="2.9" fill="#ff0000" stroke="#000" stroke-width="1.5"/>
<circle cx="654.00" cy="468.30" r="2.9" fill="#08c808" stroke="#000" stroke-width="1.5"/>
<text x="672.80" y="455.90" font-size="13.3" font-weight="bold" fill="#1a1a1a">NC_WT_Lap</text>
<text x="672.80" y="472.40" font-size="13.3" font-weight="bold" fill="#1a1a1a">NC_iG6PC_KO_Lap</text>
</svg>
</body></html>
